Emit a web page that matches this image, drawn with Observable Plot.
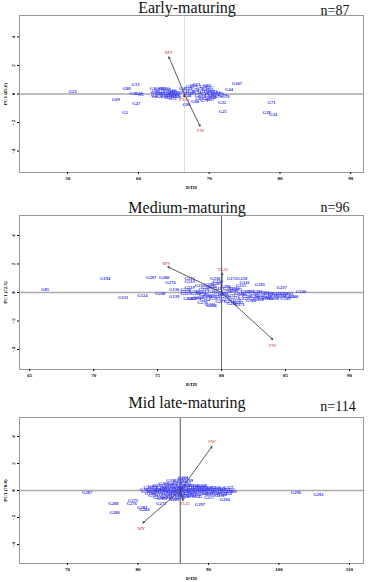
<!DOCTYPE html>
<html><head><meta charset="utf-8">
<script src="https://cdn.jsdelivr.net/npm/d3@7"></script>
<script src="https://cdn.jsdelivr.net/npm/@observablehq/plot@0.6"></script>
<style>
body{margin:0;background:#fff;}
#wrap{position:relative;width:373px;height:582px;overflow:hidden;font-family:"Liberation Serif","Times New Roman",serif;}
.panel{position:absolute;left:0;width:373px;}
.title{position:absolute;font-size:16px;color:#111;white-space:nowrap;transform:translate(-50%,-50%);}
.n{position:absolute;font-size:14px;color:#111;white-space:nowrap;transform:translate(-50%,-50%);}
</style></head><body><div id="wrap"></div>
<script>
// ---------- Early-maturing (n=87) ----------
const earlyNames = ["G23","G88","G13","G69","G47","G2","G16","G19","G5","G32","G25","G44","G307","G71","G29","G34","G80","G86","G53",
"G1","G3","G4","G6","G7","G8","G9","G10","G11","G12","G14","G15","G17","G18","G20","G21","G22","G24","G26","G27","G28","G30","G31","G33","G35","G36","G37","G38","G39","G40",
"G41","G42","G43","G45","G46","G48","G49","G50","G51",
"G52","G54","G55","G56","G57","G58","G59","G60","G61","G62","G63","G64","G65","G66","G67","G68","G70","G72","G73","G74","G75","G76","G77","G78","G79","G81","G82","G83"];
const earlyDTH = [50.7,58.3,59.6,56.8,59.7,58.1,59.3,60.0,60.3,71.8,71.9,72.8,73.9,78.8,78.1,79.0,68.0,66.8,64.8,
62.0,62.1,62.2,62.3,62.6,62.8,63.0,63.2,63.4,63.5,63.6,63.8,64.0,64.1,64.3,64.4,64.6,64.8,65.0,65.1,65.3,65.5,65.6,62.4,63.1,64.2,65.2,62.9,63.9,64.7,
66.3,66.6,67.0,67.3,67.5,66.9,67.2,67.8,68.2,
68.0,68.3,68.5,68.7,68.9,69.0,69.2,69.4,69.5,69.6,69.8,69.9,70.0,70.1,70.2,70.3,70.5,70.6,70.8,71.0,71.2,71.5,71.9,72.3,69.3,68.6,70.4,69.7,67.6];
const earlyPC1 = [0.15,0.35,0.65,-0.4,-0.7,-1.3,0.0,0.0,-0.05,-0.6,-1.2,0.3,0.7,-0.6,-1.3,-1.45,-0.5,-0.75,-0.35,
0.4,0.1,-0.1,-0.2,0.3,0.0,-0.15,0.2,0.35,0.05,-0.2,0.4,0.3,0.0,-0.1,0.2,0.1,-0.05,0.15,-0.1,0.05,-0.15,0.1,0.2,0.0,-0.25,-0.2,0.35,-0.1,0.25,
0.4,0.2,0.35,0.5,0.15,-0.1,0.0,0.6,0.65,
0.3,0.1,-0.1,0.4,0.2,-0.2,0.5,0.0,0.3,-0.3,0.15,-0.1,0.45,0.25,-0.4,0.05,-0.15,0.2,-0.05,0.1,-0.2,0.0,-0.1,-0.15,-0.45,-0.3,-0.25,0.6,-0.2];
const earlyVecNames = ["MY","FW","YLD"];
const earlyVecX = [64.3,68.7,66.45];
const earlyVecY = [2.6,-2.25,-0.2];
const earlyVecLabX = [64.3,68.8,66.4];
const earlyVecLabY = [2.9,-2.55,-0.4];

// ---------- Medium-maturing (n=96) ----------
const medNames = ["G85","G194","G131","G124","G297","G280","G274","G248","G136","G139","G371","G237","G340","G149","G291","G172","G258","G125","G141","G212",
"G213","G219","G220","G221","G223","G226","G227","G229","G230","G231","G233","G234","G235","G236","G238","G239","G240","G241","G243","G244",
"G245","G246","G247","G249","G250","G251","G252","G253","G254","G255","G256","G257","G259","G260","G261","G262","G263","G264","G265","G266",
"G267","G268","G269","G270","G271","G273","G275","G276","G277","G278","G279","G281","G282","G283","G284","G285","G286","G287","G288","G289",
"G290","G292","G293","G294","G295","G296","G298","G299","G300","G301","G302","G303","G304","G305","G306","G308"];
const medDTH = [66.2,70.9,72.3,73.8,74.5,75.5,76.0,75.2,76.3,76.3,81.4,84.7,86.2,85.0,83.0,80.8,81.6,81.5,81.8,77.5,
77.5,77.5,77.2,77.2,77.2,77.4,77.7,78.6,78.2,78.9,79.1,79.2,78.3,78.8,79.5,79.7,79.2,79.6,80.9,81.4,
81.9,82.5,83.0,83.5,84.0,84.5,81.7,81.1,80.6,82.5,83.2,83.8,84.3,84.8,85.3,78.0,78.4,78.7,79.0,79.3,
79.5,79.8,80.2,80.4,80.7,81.0,81.2,80.3,79.9,78.5,78.0,82.0,82.2,82.8,83.3,83.7,82.6,81.3,80.8,79.6,
80.3,80.5,81.0,79.0,78.6,77.9,84.1,84.7,85.6,85.2,82.3,83.6,80.1,79.4,81.6,82.9];
const medPC1 = [0.2,1.0,-0.35,-0.2,1.05,1.05,0.7,-0.05,0.2,-0.3,-0.85,0.35,0.05,-0.4,0.55,1.0,0.95,0.5,0.7,0.95,
0.8,0.35,0.2,0.05,-0.1,-0.4,-0.4,0.2,-0.35,-0.3,-0.85,-0.95,0.5,0.35,0.95,0.8,0.4,0.3,0.14,-0.05,
0.09,-0.1,-0.21,-0.28,-0.14,-0.23,-0.4,-0.56,-0.61,-0.44,-0.37,-0.33,-0.1,-0.05,-0.28,-0.1,0.0,-0.5,-0.2,0.1,
-0.4,-0.15,-0.3,0.05,-0.2,-0.35,0.2,-0.5,-0.6,-0.7,-0.45,-0.25,0.1,0.05,0.0,-0.1,-0.3,-0.7,-0.8,0.6,
0.4,0.25,0.3,0.55,-0.15,0.1,-0.4,-0.3,-0.3,-0.05,-0.55,-0.45,-0.1,-0.25,-0.15,-0.5];
const medVecNames = ["MY","YLD","FW"];
const medVecX = [75.8,80.05,84.0];
const medVecY = [1.8,1.35,-3.3];
const medVecLabX = [75.7,80.1,84.0];
const medVecLabY = [2.05,1.6,-3.7];

// ---------- Mid late-maturing (n=114) ----------
const lateNames = ["G287","G288","G286","G275","G276","G283","G284","G271","G263","G297","G255","G257","G231","G294","G299","G296","G292","G254",
"G185","G186","G187","G188","G189","G190","G191","G192","G193","G195","G196","G197","G198","G199","G200","G201","G202","G203","G204",
"G205","G206","G207","G208","G209","G210","G211","G214","G215","G216","G217","G218","G222","G224","G225",
"G228","G232","G242","G272","G277","G278","G279","G281","G282","G285","G289","G290","G291","G293","G295","G298","G300",
"G301","G302","G303","G304","G305","G306","G308","G309","G310","G311","G312","G313",
"G314","G315","G316","G317","G318","G319","G320","G321","G322","G323","G324","G325","G326","G327","G328",
"G329","G330","G331","G332","G333","G334","G335","G336",
"G337","G338","G339","G341","G342","G343","G344","G345","G346"];
const lateDTH = [72.8,76.5,76.7,79.3,79.1,80.6,80.9,83.3,85.1,88.8,90.2,90.1,91.6,92.3,92.8,102.4,105.6,86.4,
81.0,81.2,81.5,81.7,81.9,82.1,82.2,82.4,82.6,82.8,83.0,83.1,83.3,83.5,83.6,83.8,83.9,84.0,84.1,
84.3,84.4,84.5,84.6,84.8,84.9,85.0,85.1,85.3,85.4,85.5,85.6,85.8,85.9,86.0,
86.1,86.2,86.3,86.4,86.5,86.6,86.7,86.8,86.9,87.0,87.1,87.2,87.3,87.4,87.6,87.7,87.9,
88.0,88.2,88.3,88.5,88.6,88.8,89.0,89.2,89.3,89.5,89.7,89.9,
90.1,90.3,90.5,90.7,91.0,91.2,91.4,91.7,92.0,92.3,92.6,93.0,93.3,92.8,91.9,
90.9,84.2,85.2,86.0,83.4,82.9,85.7,84.7,
86.3,82.0,83.2,84.6,85.6,86.8,87.5,88.4,89.1,81.3];
const latePC1 = [-0.15,-1.0,-1.6,-0.75,-0.95,-1.25,-1.4,-0.95,-0.7,-1.05,-0.3,-0.5,-0.4,-0.65,-0.1,-0.15,-0.3,0.95,
0.1,-0.1,0.2,-0.25,0.05,0.3,-0.4,0.1,-0.15,0.35,0.0,-0.3,0.25,-0.1,0.5,0.15,-0.45,0.3,-0.2,
0.0,0.45,-0.3,0.2,-0.1,0.55,0.1,-0.4,0.3,-0.2,0.0,0.5,-0.3,0.15,-0.1,
0.4,0.65,-0.2,0.2,0.0,-0.35,0.3,0.55,-0.1,0.1,0.75,-0.25,0.35,0.0,0.2,-0.15,0.4,
0.05,-0.3,0.25,0.1,-0.1,0.3,0.0,-0.2,0.2,0.05,-0.25,0.15,
0.0,0.25,-0.1,0.1,0.2,-0.15,0.05,0.15,-0.05,0.1,-0.2,0.05,-0.05,0.2,-0.3,
-0.25,-0.55,-0.6,-0.55,-0.6,-0.5,0.75,0.7,
0.9,-0.05,0.1,-0.05,0.25,-0.45,-0.4,-0.45,0.35,0.35];
const lateVecNames = ["SW","MY","YLD"];
const lateVecX = [90.5,80.7,86.4];
const lateVecY = [3.25,-2.4,-0.75];
const lateVecLabX = [90.5,80.5,86.6];
const lateVecLabY = [3.65,-2.8,-0.95];

const panels = [
  {title:"Early-maturing", n:"n=87", top:0, height:192, mt:15, mb:20, xd:[43.2,91.8], xt:[50,60,70,80,90], yd:[-5.5,5.5],
   origin:66.5, vcol:"#dddddd", ylab:"PC1 (65.6)", ty:8, nx:335, ny:11,
   names:earlyNames, xs:earlyDTH, ys:earlyPC1, vn:earlyVecNames, vx:earlyVecX, vy:earlyVecY, lx:earlyVecLabX, ly:earlyVecLabY},
  {title:"Medium-maturing", n:"n=96", top:192, height:196, mt:23, mb:19, xd:[64.2,91.1], xt:[65,70,75,80,85,90], yd:[-5.4,5.4],
   origin:80, vcol:"#666666", ylab:"PC1 (72.5)", ty:16, nx:335, ny:16,
   names:medNames, xs:medDTH, ys:medPC1, vn:medVecNames, vx:medVecX, vy:medVecY, lx:medVecLabX, ly:medVecLabY},
  {title:"Mid late-maturing", n:"n=114", top:388, height:194, mt:29, mb:19, xd:[63.2,112], xt:[70,80,90,100,110], yd:[-5.4,5.4],
   origin:86, vcol:"#555555", ylab:"PC1 (70.8)", ty:15, nx:338, ny:19,
   names:lateNames, xs:lateDTH, ys:latePC1, vn:lateVecNames, vx:lateVecX, vy:lateVecY, lx:lateVecLabX, ly:lateVecLabY}
];

const wrap = document.getElementById("wrap");
for (const p of panels) {
  const pts = p.names.map((g,i)=>({g, x:p.xs[i], y:p.ys[i]}));
  const vecs = p.vn.map((v,i)=>({v, x1:p.origin, y1:0, x2:p.vx[i], y2:p.vy[i], lx:p.lx[i], ly:p.ly[i]}));
  const chart = Plot.plot({
    width:373, height:p.height,
    marginTop:p.mt, marginBottom:p.mb, marginLeft:19, marginRight:10,
    style:{fontFamily:"'Liberation Serif', serif", background:"transparent"},
    x:{domain:p.xd}, y:{domain:p.yd},
    marks:[
      Plot.ruleY([0], {stroke:"#aaaaaa", strokeWidth:1.5}),
      Plot.ruleX([p.origin], {stroke:p.vcol, strokeWidth:1}),
      Plot.text(pts, {x:"x", y:"y", text:"g", fill:"#3030f0", fontSize:4.5, fontWeight:"bold"}),
      Plot.arrow(vecs, {x1:"x1", y1:"y1", x2:"x2", y2:"y2", stroke:"#333", strokeWidth:0.8, headLength:3}),
      Plot.text(vecs, {x:"lx", y:"ly", text:"v", fill:"#c03838", fontSize:5}),
      Plot.frame({stroke:"#999", strokeWidth:1}),
      Plot.axisX({ticks:p.xt, tickSize:2, fontSize:5, fontWeight:"bold", tickPadding:2, label:"DTH", labelAnchor:"center", labelArrow:"none", labelOffset:16}),
      Plot.axisY({ticks:[-4,-2,0,2,4], tickSize:2, fontSize:5, fontWeight:"bold", tickRotate:-90, tickPadding:3, label:p.ylab, labelAnchor:"center", labelArrow:"none", labelOffset:16})
    ]
  });
  const div = document.createElement("div");
  div.className = "panel";
  div.style.top = p.top + "px";
  div.style.height = p.height + "px";
  chart.style.position = "absolute"; chart.style.left = "0"; chart.style.top = "0";
  div.appendChild(chart);
  const t = document.createElement("div"); t.className="title"; t.textContent=p.title;
  t.style.left = "187px"; t.style.top = p.ty + "px"; div.appendChild(t);
  const n = document.createElement("div"); n.className="n"; n.textContent=p.n;
  n.style.left = p.nx + "px"; n.style.top = p.ny + "px"; div.appendChild(n);
  wrap.appendChild(div);
}
</script></body></html>
